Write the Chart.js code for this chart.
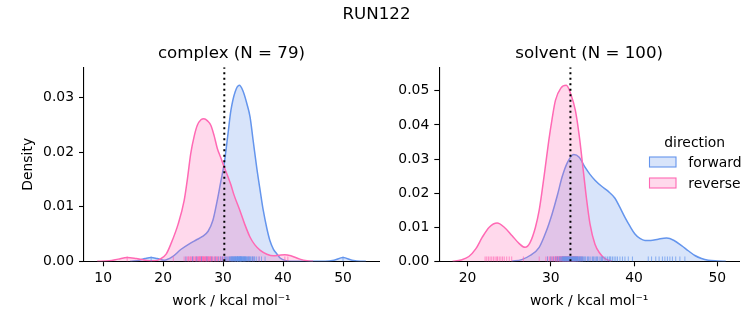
<!DOCTYPE html>
<html><head><meta charset="utf-8">
<script src="https://cdn.jsdelivr.net/npm/chart.js@4.4.0/dist/chart.umd.min.js"></script>
<style>
html,body{margin:0;padding:0;background:#fff;}
#wrap{position:relative;width:753px;height:325px;overflow:hidden;}
canvas{position:absolute;left:0;top:0;}
</style></head><body>
<div id="wrap"><canvas id="c1" width="753" height="325"></canvas><canvas id="c2" width="753" height="325"></canvas></div>
<script>
// ---------- text ----------
const suptitle = 'RUN122';
const panelTitles = ['complex (N = 79)', 'solvent (N = 100)'];
const seriesNames = ['forward', 'reverse'];
const legendTitle = 'direction';
const xAxisLabel = 'work / kcal mol⁻¹';
const yAxisLabel = 'Density';

// ---------- ticks ----------
const complexXTicks = [10, 20, 30, 40, 50];
const complexYTicks = [0, 0.01, 0.02, 0.03];
const solventXTicks = [20, 30, 40, 50];
const solventYTicks = [0, 0.01, 0.02, 0.03, 0.04, 0.05];

// ---------- complex KDE ----------
const complexForwardX = [14.5, 16.0, 17.0, 18.0, 19.0, 20.2, 21.5, 23.0, 24.5, 25.5, 26.5, 27.5, 28.3, 29.0, 29.6, 30.2, 30.8, 31.3, 32.0, 32.7, 33.3, 34.0, 34.5, 35.0, 35.6, 36.2, 36.7, 37.3, 37.8, 38.4, 39.0, 39.5, 40.5, 42.0, 47.0, 48.5, 50.0, 51.5, 53.0, 53.8];
const complexForwardY = [0, 0.0002, 0.0005, 0.0007, 0.0005, 0.0002, 0.0008, 0.0022, 0.0033, 0.0039, 0.0045, 0.0055, 0.0075, 0.0110, 0.0145, 0.0180, 0.0232, 0.0276, 0.0310, 0.0322, 0.0312, 0.0287, 0.0264, 0.0222, 0.0172, 0.0128, 0.0093, 0.0060, 0.0038, 0.0022, 0.0013, 0.0006, 0.0001, 0, 0, 0.0002, 0.0007, 0.0002, 0, 0];
const complexReverseX = [9.0, 11.0, 12.5, 14.0, 15.5, 17.0, 18.5, 19.5, 20.5, 21.3, 22.5, 23.5, 24.1, 24.6, 25.2, 25.7, 26.3, 26.8, 27.4, 27.95, 28.5, 29.05, 29.6, 30.2, 30.8, 31.3, 31.8, 32.8, 33.6, 34.5, 35.3, 36.2, 37.3, 38.4, 39.3, 40.3, 41.3, 42.8, 44.0, 45.0];
const complexReverseY = [0, 0.0001, 0.0004, 0.0007, 0.0005, 0.0002, 0.0001, 0.0004, 0.0013, 0.0032, 0.0068, 0.0111, 0.0155, 0.0197, 0.0230, 0.0249, 0.0259, 0.0261, 0.0257, 0.0249, 0.0230, 0.0206, 0.0190, 0.0172, 0.0155, 0.0140, 0.0122, 0.0093, 0.0068, 0.0044, 0.0030, 0.0020, 0.0013, 0.0010, 0.0011, 0.0012, 0.0010, 0.0004, 0.0001, 0];
const complexMarker = 30.2;

// ---------- solvent KDE ----------
const solventForwardX = [25.3, 26.5, 27.5, 28.6, 29.4, 30.15, 30.8, 31.35, 32.0, 32.75, 33.4, 34.1, 34.7, 35.3, 36.1, 36.9, 37.7, 38.3, 38.9, 39.5, 40.1, 40.7, 41.3, 42.0, 42.9, 43.9, 44.8, 45.7, 46.5, 47.3, 48.1, 48.9, 50.0, 51.0];
const solventForwardY = [0, 0.0005, 0.0017, 0.0041, 0.0085, 0.0139, 0.0195, 0.0247, 0.0290, 0.0313, 0.0305, 0.0276, 0.0255, 0.0238, 0.0220, 0.0205, 0.0185, 0.0158, 0.0129, 0.0103, 0.0080, 0.0067, 0.0061, 0.0061, 0.0065, 0.0068, 0.0061, 0.0046, 0.0031, 0.0017, 0.0008, 0.0003, 0.0001, 0];
const solventReverseX = [18.2, 19.2, 20.15, 21.0, 21.75, 22.6, 23.55, 24.4, 25.35, 26.2, 26.9, 27.5, 28.15, 28.6, 28.95, 29.35, 29.75, 30.15, 30.55, 31.2, 31.85, 32.4, 32.95, 33.4, 33.9, 34.3, 34.7, 35.3, 35.9, 36.5, 37.3];
const solventReverseY = [0, 0.0004, 0.0014, 0.0037, 0.0070, 0.0100, 0.0112, 0.0100, 0.0075, 0.0052, 0.0041, 0.0055, 0.0100, 0.0150, 0.0207, 0.0280, 0.0354, 0.0418, 0.0472, 0.0508, 0.0516, 0.0490, 0.0442, 0.0370, 0.0265, 0.0180, 0.0110, 0.0050, 0.0023, 0.0008, 0];
const solventMarker = 32.35;

// ---------- rug samples ----------
const complexForwardRug = [18.0, 23.8, 24.9, 25.6, 26.4, 27.3, 28.1, 28.7, 29.2, 29.6, 29.9, 30.2, 30.4, 30.6, 30.8, 31.0, 31.1, 31.2, 31.3, 31.4, 31.45, 31.5, 31.6, 31.65, 31.7, 31.8, 31.85, 31.9, 32.0, 32.05, 32.1, 32.15, 32.2, 32.3, 32.35, 32.4, 32.45, 32.5, 32.5, 32.6, 32.65, 32.7, 32.75, 32.8, 32.85, 32.9, 32.95, 33.0, 33.05, 33.1, 33.15, 33.2, 33.3, 33.35, 33.4, 33.5, 33.55, 33.6, 33.7, 33.75, 33.8, 33.9, 34.0, 34.1, 34.2, 34.3, 34.4, 34.5, 34.6, 34.8, 34.9, 35.0, 35.2, 35.3, 35.6, 36.0, 36.4, 37.0, 50.0];
const complexReverseRug = [14.0, 21.7, 23.5, 23.8, 24.1, 24.2, 24.3, 24.5, 24.6, 24.7, 24.9, 25.0, 25.1, 25.3, 25.4, 25.5, 25.6, 25.7, 25.8, 25.9, 26.0, 26.05, 26.1, 26.2, 26.25, 26.3, 26.4, 26.5, 26.55, 26.6, 26.7, 26.75, 26.8, 26.9, 27.0, 27.05, 27.1, 27.2, 27.25, 27.3, 27.4, 27.5, 27.55, 27.6, 27.7, 27.8, 27.85, 27.9, 28.0, 28.1, 28.2, 28.3, 28.5, 28.6, 28.7, 28.9, 29.0, 29.1, 29.3, 29.5, 29.6, 29.7, 29.9, 30.1, 30.3, 30.5, 30.8, 31.0, 31.3, 31.6, 32.0, 32.4, 32.9, 33.5, 34.2, 35.0, 36.0, 40.3, 40.8];
const solventForwardRug = [29.6, 30.0, 30.3, 30.6, 30.8, 31.0, 31.1, 31.2, 31.3, 31.4, 31.45, 31.5, 31.55, 31.6, 31.65, 31.7, 31.75, 31.8, 31.85, 31.9, 31.95, 32.0, 32.05, 32.1, 32.15, 32.2, 32.25, 32.3, 32.35, 32.4, 32.45, 32.5, 32.55, 32.6, 32.65, 32.7, 32.75, 32.8, 32.85, 32.9, 32.95, 33.0, 33.05, 33.1, 33.15, 33.2, 33.25, 33.3, 33.4, 33.45, 33.5, 33.6, 33.65, 33.7, 33.8, 33.9, 34.0, 34.1, 34.2, 34.4, 34.5, 34.6, 34.8, 35.0, 35.1, 35.2, 35.4, 35.5, 35.6, 35.8, 36.0, 36.1, 36.2, 36.4, 36.6, 36.8, 37.0, 37.1, 37.2, 37.4, 37.6, 37.8, 38.0, 38.3, 38.6, 38.9, 39.3, 39.8, 41.7, 42.1, 42.6, 43.0, 43.4, 43.7, 44.0, 44.3, 44.6, 45.0, 45.5, 46.1];
const solventReverseRug = [22.1, 22.3, 22.5, 22.7, 22.9, 23.1, 23.3, 23.5, 23.6, 23.8, 24.0, 24.2, 24.4, 24.7, 25.0, 25.3, 26.7, 28.6, 29.4, 29.6, 29.8, 29.9, 30.0, 30.1, 30.2, 30.3, 30.4, 30.5, 30.55, 30.6, 30.65, 30.7, 30.75, 30.8, 30.85, 30.9, 30.95, 31.0, 31.05, 31.08, 31.1, 31.15, 31.2, 31.22, 31.25, 31.3, 31.35, 31.38, 31.4, 31.45, 31.5, 31.52, 31.55, 31.6, 31.65, 31.68, 31.7, 31.75, 31.8, 31.82, 31.85, 31.9, 31.95, 31.98, 32.0, 32.05, 32.1, 32.12, 32.15, 32.2, 32.25, 32.28, 32.3, 32.35, 32.4, 32.42, 32.45, 32.5, 32.55, 32.58, 32.6, 32.65, 32.7, 32.72, 32.75, 32.8, 32.85, 32.88, 32.9, 32.95, 33.0, 33.05, 33.1, 33.2, 33.25, 33.3, 33.4, 33.5, 33.6, 33.8];

// ---------- styling ----------
const FONT = '"DejaVu Sans", sans-serif';
const BLUE = 'rgb(100,149,237)', BLUE_FILL = 'rgba(100,149,237,0.25)', BLUE_RUG = 'rgba(100,149,237,0.7)';
const PINK = 'rgb(255,105,180)', PINK_FILL = 'rgba(255,105,180,0.25)', PINK_RUG = 'rgba(255,105,180,0.7)';
Chart.defaults.font.family = FONT;
Chart.defaults.color = '#000';

const pts = (xs, ys) => xs.map((x, i) => ({x, y: ys[i]}));
const rug = xs => xs.map(x => ({x, y: 0.0125}));

function kde(label, xs, ys, line, fill, order) {
  return {type: 'line', label, data: pts(xs, ys), borderColor: line, backgroundColor: fill,
    borderWidth: 1.5, fill: 'origin', pointRadius: 0, cubicInterpolationMode: 'monotone', order, yAxisID: 'y'};
}
function rugSet(xs, color, order) {
  return {type: 'scatter', data: rug(xs), yAxisID: 'yr', showLine: false, pointStyle: 'line', pointRotation: 90,
    pointRadius: 2.4, pointHoverRadius: 2.4, pointBorderWidth: 1, borderColor: color, pointBorderColor: color,
    backgroundColor: color, order, clip: false};
}
function markerSet(x) {
  return {type: 'line', data: [{x, y: 0}, {x, y: 1}], yAxisID: 'yr', borderColor: '#000', borderWidth: 2,
    borderDash: [2.1, 3.4], pointRadius: 0, fill: false, order: 0};
}

const titlePlugin = {
  id: 'suptitle',
  afterDraw(chart, args, opts) {
    if (!opts.text) return;
    const ctx = chart.ctx; ctx.save();
    ctx.font = '16.67px ' + FONT; ctx.fillStyle = '#000'; ctx.textAlign = 'center'; ctx.textBaseline = 'alphabetic';
    ctx.fillText(opts.text, 376.5, 19);
    ctx.restore();
  }
};
const legendPlugin = {
  id: 'mplLegend',
  afterDraw(chart, args, opts) {
    if (!opts.show) return;
    const ctx = chart.ctx; ctx.save();
    ctx.font = '13.9px ' + FONT; ctx.fillStyle = '#000'; ctx.textBaseline = 'alphabetic';
    ctx.textAlign = 'center';
    ctx.fillText(legendTitle, 694.7, 146.7);
    const items = [[seriesNames[0], BLUE, BLUE_FILL, 157], [seriesNames[1], PINK, PINK_FILL, 178]];
    items.forEach(([name, line, fill, top]) => {
      ctx.fillStyle = fill; ctx.fillRect(649.5, top, 26.5, 10);
      ctx.strokeStyle = line; ctx.lineWidth = 1.1; ctx.strokeRect(649.5, top, 26.5, 10);
      ctx.fillStyle = '#000'; ctx.textAlign = 'left';
      ctx.fillText(name, 688.3, top + 9.8);
    });
    ctx.restore();
  }
};

function makePanel(id, p) {
  return new Chart(document.getElementById(id), {
    type: 'line',
    data: {datasets: [
      markerSet(p.marker),
      rugSet(p.fRug, BLUE_RUG, 1),
      rugSet(p.rRug, PINK_RUG, 1),
      kde(seriesNames[1], p.rX, p.rY, PINK, PINK_FILL, 2),
      kde(seriesNames[0], p.fX, p.fY, BLUE, BLUE_FILL, 3)
    ]},
    plugins: [titlePlugin, legendPlugin],
    options: {
      responsive: false, animation: false, events: [],
      layout: {padding: {left: p.padLeft, right: p.padRight, top: 43.5, bottom: 0}},
      plugins: {
        legend: {display: false}, tooltip: {enabled: false},
        title: {display: true, text: p.title, fullSize: false, font: {size: 16.67, weight: 'normal', lineHeight: 1.2},
          color: '#000', padding: {top: 0, bottom: 3.8}},
        suptitle: {text: p.suptitle},
        mplLegend: {show: p.legend}
      },
      scales: {
        x: {type: 'linear', min: p.xMin, max: p.xMax,
          afterBuildTicks: s => { s.ticks = p.xTicks.map(v => ({value: v})); },
          afterFit: s => { s.height = 63.7; },
          ticks: {font: {size: 13.9}, color: '#000', padding: 4.2, maxRotation: 0, callback: v => String(v)},
          grid: {display: true, drawOnChartArea: false, drawTicks: true, tickLength: 5, tickWidth: 1.1, tickColor: '#000'},
          border: {display: true, color: '#000', width: 1.1},
          title: {display: true, text: xAxisLabel, font: {size: 13.9, lineHeight: 1.2}, color: '#000', padding: {top: 0, bottom: 15.5}}
        },
        y: {type: 'linear', min: 0, max: p.yMax,
          afterBuildTicks: s => { s.ticks = p.yTicks.map(v => ({value: v})); },
          afterFit: s => { s.width = 70; },
          ticks: {font: {size: 13.9}, color: '#000', padding: 5, callback: v => v.toFixed(2)},
          grid: {display: true, drawOnChartArea: false, drawTicks: true, tickLength: 5, tickWidth: 1.1, tickColor: '#000'},
          border: {display: true, color: '#000', width: 1.1},
          title: {display: p.yTitle, text: yAxisLabel, font: {size: 13.9, lineHeight: 1.2}, color: '#000', padding: {top: 5.6, bottom: 0}}
        },
        yr: {type: 'linear', display: false, min: 0, max: 1}
      }
    }
  });
}

makePanel('c1', {
  title: panelTitles[0], suptitle: suptitle, legend: false, yTitle: true,
  padLeft: 14, padRight: 753 - 379,
  xMin: 6.8, xMax: 56, yMax: 0.0355, xTicks: complexXTicks, yTicks: complexYTicks,
  fX: complexForwardX, fY: complexForwardY, rX: complexReverseX, rY: complexReverseY,
  fRug: complexForwardRug, rRug: complexReverseRug, marker: complexMarker
});
makePanel('c2', {
  title: panelTitles[1], suptitle: null, legend: true, yTitle: false,
  padLeft: 439.3 - 70, padRight: 14,
  xMin: 16.6, xMax: 52.6, yMax: 0.0569, xTicks: solventXTicks, yTicks: solventYTicks,
  fX: solventForwardX, fY: solventForwardY, rX: solventReverseX, rY: solventReverseY,
  fRug: solventForwardRug, rRug: solventReverseRug, marker: solventMarker
});
</script>
</body></html>
